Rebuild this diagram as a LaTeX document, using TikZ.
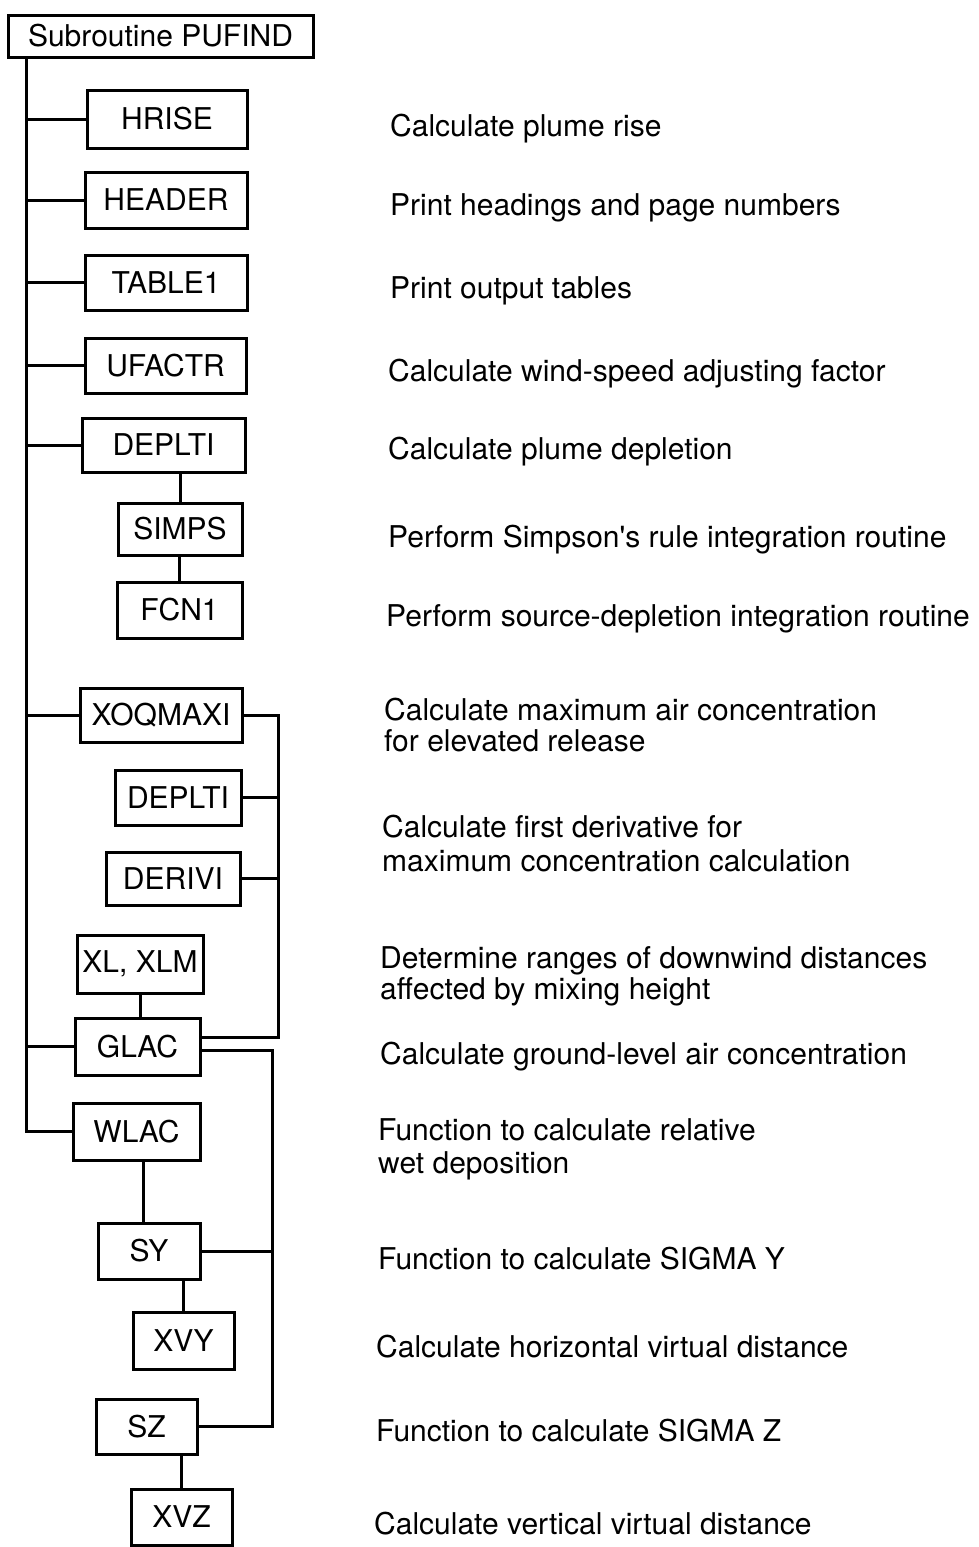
\documentclass[tikz,border=0pt]{standalone}
\usepackage{fontspec}
\setmainfont{TeX Gyre Heros}
\begin{document}
\begin{tikzpicture}[x=1pt,y=-1pt,
  box/.style={draw, line width=3pt, inner sep=0pt, font=\fontsize{30}{32}\selectfont},
  desc/.style={anchor=base west, inner sep=0pt, font=\fontsize{30}{32}\selectfont},
  wire/.style={line width=3pt}]
\useasboundingbox (0,0) rectangle (979,1547);
% boxes
\node[box, minimum width=305pt, minimum height=42pt] (main) at (160.5,36) {Subroutine PUFIND};
\node[box, minimum width=160pt, minimum height=58pt] (hrise) at (167,119) {HRISE};
\node[box, minimum width=162pt, minimum height=56pt] (header) at (166,200) {HEADER};
\node[box, minimum width=162pt, minimum height=55pt] (table) at (166,282.5) {TABLE1};
\node[box, minimum width=161pt, minimum height=55pt] (ufactr) at (165.5,365.5) {UFACTR};
\node[box, minimum width=163pt, minimum height=54pt] (depa) at (163.5,445) {DEPLTI};
\node[box, minimum width=124pt, minimum height=52pt] (simps) at (180,529) {SIMPS};
\node[box, minimum width=125pt, minimum height=56pt] (fcn) at (179.5,610) {FCN1};
\node[box, minimum width=162pt, minimum height=54pt] (xoq) at (161,715) {XOQMAXI};
\node[box, minimum width=126pt, minimum height=55pt] (depb) at (178,797.5) {DEPLTI};
\node[box, minimum width=134pt, minimum height=53pt] (deriv) at (173,878.5) {DERIVI};
\node[box, minimum width=126pt, minimum height=58pt] (xl) at (140,964) {XL, XLM};
\node[box, minimum width=125pt, minimum height=57pt] (glac) at (137.5,1046.5) {GLAC};
\node[box, minimum width=127pt, minimum height=57pt] (wlac) at (136.5,1131.5) {WLAC};
\node[box, minimum width=102pt, minimum height=56pt] (sy) at (149,1251) {SY};
\node[box, minimum width=101pt, minimum height=57pt] (xvy) at (183.5,1340.5) {XVY};
\node[box, minimum width=101pt, minimum height=55pt] (sz) at (146.5,1426.5) {SZ};
\node[box, minimum width=101pt, minimum height=56pt] (xvz) at (181.5,1517) {XVZ};
% helper coordinates
\coordinate (tx) at (26,0);
\coordinate (b1) at (278,0);
\coordinate (b2) at (272,0);
% trunk
\draw[wire] (main.south -| tx) |- (wlac.west);
\foreach \n in {hrise,header,table,ufactr,depa,xoq,glac}
  \draw[wire] (\n.west) -- (\n.west -| tx);
% depletion chain
\draw[wire] (simps.north) -- (simps.north |- depa.south);
\draw[wire] (fcn.north) -- (fcn.north |- simps.south);
% bus 1
\coordinate (g1) at ([yshift=9.5pt]glac.east);
\coordinate (g2) at ([yshift=-3.5pt]glac.east);
\draw[wire] (xoq.east) -- (xoq.east -| b1) -- (b1 |- g1) -- (g1);
\draw[wire] (depb.east) -- (depb.east -| b1);
\draw[wire] (deriv.east) -- (deriv.east -| b1);
\draw[wire] (glac.north -| xl.south) -- (xl.south);
% bus 2
\draw[wire] (g2) -- (g2 -| b2) -- (b2 |- sz.east) -- (sz.east);
\draw[wire] (sy.east) -- (sy.east -| b2);
\draw[wire] (wlac.south -| 143,0) -- (sy.north -| 143,0);
\draw[wire] (sy.south -| xvy.north) -- (xvy.north);
\draw[wire] (sz.south -| xvz.north) -- (xvz.north);
% descriptions
\node[desc] (d1) at (390,136) {Calculate plume rise};
\node[desc] (d2) at (390,215) {Print headings and page numbers};
\node[desc] (d3) at (390,298) {Print output tables};
\node[desc] (d4) at (388,381) {Calculate wind-speed adjusting factor};
\node[desc] (d5) at (388,459) {Calculate plume depletion};
\node[desc] (d6) at (388,547) {Perform Simpson\textquotesingle s rule integration routine};
\node[desc] (d7) at (386,626) {Perform source-depletion integration routine};
\node[desc] (d8a) at (384,720) {Calculate maximum air concentration};
\node[desc] (d8b) at (384,751) {for elevated release};
\node[desc] (d9a) at (382,837) {Calculate first derivative for};
\node[desc] (d9b) at (382,871) {maximum concentration calculation};
\node[desc] (d10a) at (380,968) {Determine ranges of downwind distances};
\node[desc] (d10b) at (380,999) {affected by mixing height};
\node[desc] (d11) at (380,1064) {Calculate ground-level air concentration};
\node[desc] (d12a) at (378,1140) {Function to calculate relative};
\node[desc] (d12b) at (378,1173) {wet deposition};
\node[desc] (d13) at (378,1269) {Function to calculate SIGMA Y};
\node[desc] (d14) at (376,1357) {Calculate horizontal virtual distance};
\node[desc] (d15) at (376,1441) {Function to calculate SIGMA Z};
\node[desc] (d16) at (374,1534) {Calculate vertical virtual distance};
\end{tikzpicture}
\end{document}
